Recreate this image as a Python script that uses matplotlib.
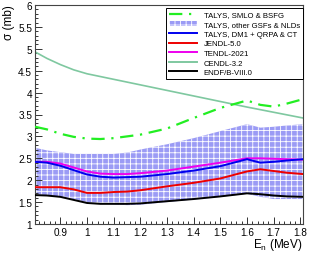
import matplotlib
matplotlib.use("Agg")
import matplotlib.pyplot as plt
from matplotlib.patches import Patch
from matplotlib.lines import Line2D
from matplotlib.ticker import MultipleLocator

plt.rcParams['font.family'] = ['Liberation Sans', 'DejaVu Sans']
plt.rcParams['hatch.linewidth'] = 0.6

energy = [0.805, 0.85, 0.9, 0.95, 1.0, 1.05, 1.1, 1.15, 1.2, 1.3, 1.4, 1.5, 1.6, 1.65, 1.7, 1.75, 1.81]
endf = [1.66, 1.65, 1.62, 1.55, 1.48, 1.46, 1.46, 1.46, 1.47, 1.52, 1.57, 1.63, 1.70, 1.68, 1.65, 1.63, 1.62]
jendl = [1.84, 1.84, 1.84, 1.79, 1.71, 1.71, 1.73, 1.74, 1.77, 1.86, 1.94, 2.04, 2.20, 2.25, 2.21, 2.17, 2.14]
talys_dm1 = [2.42, 2.40, 2.33, 2.23, 2.13, 2.08, 2.06, 2.07, 2.08, 2.14, 2.22, 2.32, 2.48, 2.40, 2.42, 2.45, 2.48]
tendl = [2.42, 2.42, 2.38, 2.29, 2.20, 2.15, 2.14, 2.14, 2.16, 2.22, 2.31, 2.40, 2.50, 2.50, 2.49, 2.48, 2.47]
band_hi = [2.74, 2.68, 2.64, 2.60, 2.60, 2.60, 2.60, 2.63, 2.70, 2.82, 2.96, 3.12, 3.28, 3.20, 3.22, 3.25, 3.28]
band_lo = [1.68, 1.66, 1.62, 1.57, 1.50, 1.47, 1.45, 1.43, 1.44, 1.50, 1.56, 1.62, 1.69, 1.62, 1.57, 1.57, 1.57]
talys_smlo = [3.22, 3.16, 3.06, 2.99, 2.95, 2.94, 2.96, 3.00, 3.04, 3.18, 3.42, 3.65, 3.82, 3.72, 3.68, 3.75, 3.85]
cendl_e = [0.805, 0.85, 0.9, 0.95, 1.0, 1.3, 1.6, 1.81]
cendl = [4.93, 4.78, 4.64, 4.52, 4.43, 4.05, 3.67, 3.42]

labels = ["TALYS, SMLO & BSFG", "TALYS, other GSFs & NLDs", "TALYS, DM1 + QRPA & CT",
          "JENDL-5.0", "TENDL-2021", "CENDL-3.2", "ENDF/B-VIII.0"]

fig = plt.figure(figsize=(3.10, 2.55), dpi=100)
ax = fig.add_axes([35/310, 1-225/255, 268/310, 219/255])

band_face = '#9b9bf5'
ax.fill_between(energy, band_lo, band_hi, facecolor=band_face, edgecolor='white',
                hatch='+++', linewidth=0, zorder=1)
ax.plot(cendl_e, cendl, color='#7fc8a0', lw=1.2, zorder=2)
ax.plot(energy, talys_smlo, color='#22ee22', lw=1.6, linestyle=(0, (6, 3, 1, 3)), zorder=3)
ax.plot(energy, tendl, color='#ee00ee', lw=1.4, zorder=3)
ax.plot(energy, talys_dm1, color='#0000ee', lw=1.4, zorder=4)
ax.plot(energy, jendl, color='#ee0000', lw=1.4, zorder=3)
ax.plot(energy, endf, color='black', lw=1.4, zorder=3)

ax.set_xlim(0.805, 1.81)
ax.set_ylim(1, 6)
ax.xaxis.set_major_locator(MultipleLocator(0.1))
ax.xaxis.set_minor_locator(MultipleLocator(0.02))
ax.yaxis.set_major_locator(MultipleLocator(0.5))
ax.yaxis.set_minor_locator(MultipleLocator(0.1))
ax.tick_params(which='both', direction='in', top=False, right=False, labelsize=7.2, width=0.7, color='#333333')
ax.tick_params(which='major', length=5, pad=2)
ax.tick_params(which='minor', length=2.5)
ax.set_xticks([0.9, 1.0, 1.1, 1.2, 1.3, 1.4, 1.5, 1.6, 1.7, 1.8])
ax.set_xticklabels(["0.9", "1", "1.1", "1.2", "1.3", "1.4", "1.5", "1.6", "1.7", "1.8"])
ax.set_yticks([1, 1.5, 2, 2.5, 3, 3.5, 4, 4.5, 5, 5.5, 6])
ax.set_yticklabels(["1", "1.5", "2", "2.5", "3", "3.5", "4", "4.5", "5", "5.5", "6"])
for s in ax.spines.values():
    s.set_linewidth(0.8)
    s.set_color('#444444')

fig.text(0.03, 0.98, "σ (mb)", rotation=90, ha='center', va='top', fontsize=8.5)
fig.text(0.977, 0.008, "E$_{\\mathregular{n}}$ (MeV)", ha='right', va='bottom', fontsize=8.5)

handles = [
    Line2D([], [], color='#22ee22', lw=1.6, linestyle=(0, (6, 3, 1, 3))),
    Patch(facecolor=band_face, edgecolor='white', hatch='+++', linewidth=0),
    Line2D([], [], color='#0000ee', lw=1.4),
    Line2D([], [], color='#ee0000', lw=1.4),
    Line2D([], [], color='#ee00ee', lw=1.4),
    Line2D([], [], color='#7fc8a0', lw=1.4),
    Line2D([], [], color='black', lw=1.4),
]
leg = ax.legend(handles, labels, loc='upper right', bbox_to_anchor=(1.0, 0.987),
                fontsize=5.6, frameon=True, fancybox=False, framealpha=1,
                edgecolor='black', borderpad=0.4, labelspacing=0.28,
                handlelength=3.6, handleheight=0.7, handletextpad=0.9, borderaxespad=0)
leg.get_frame().set_linewidth(0.7)
leg.set_zorder(10)

fig.savefig("out.png", dpi=100)
